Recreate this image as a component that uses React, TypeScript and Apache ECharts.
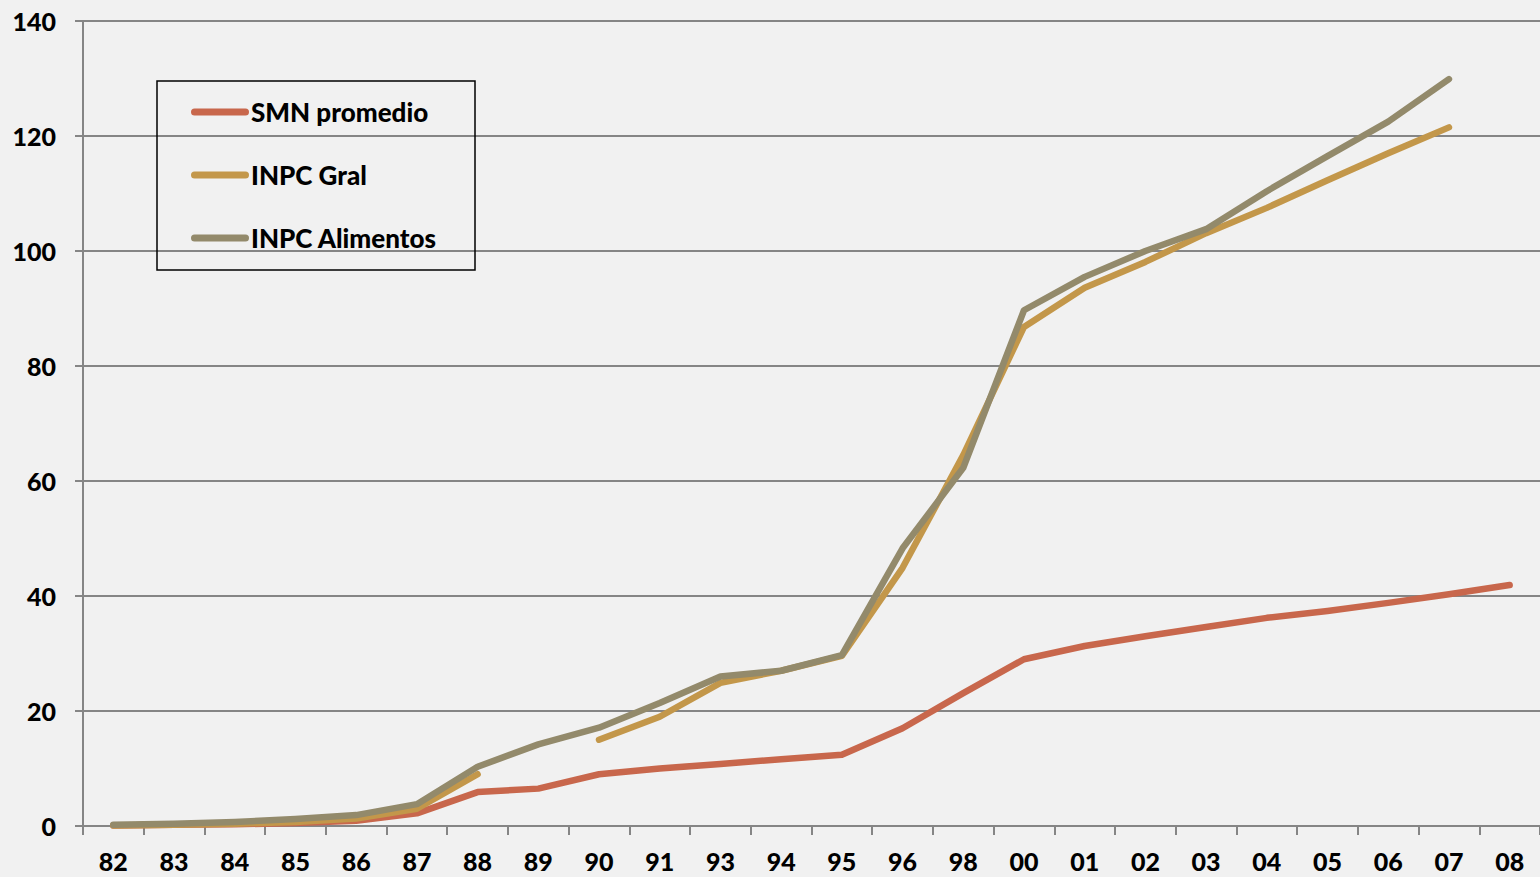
import React, { useEffect, useRef } from "react";
import * as echarts from "echarts";

// Year labels (two-digit) along the category axis
const years = [
  "82", "83", "84", "85", "86", "87", "88", "89", "90", "91", "93", "94",
  "95", "96", "98", "00", "01", "02", "03", "04", "05", "06", "07", "08",
];

const yTicks = [0, 20, 40, 60, 80, 100, 120, 140];

const smnPromedio = [
  0.1, 0.2, 0.3, 0.5, 0.9, 2.2, 5.9, 6.5, 9.0, 10.0, 10.8, 11.6,
  12.4, 17.0, 23.1, 29.0, 31.3, 33.0, 34.6, 36.2, 37.4, 38.8, 40.3, 41.9,
];

const inpcGral = [
  0.1, 0.2, 0.4, 0.7, 1.3, 3.0, 9.0, null, 15.0, 19.0, 24.9, 27.0,
  29.6, 44.9, 64.5, 86.8, 93.6, 98.1, 103.1, 107.5, 112.3, 117.0, 121.5, null,
];

const inpcAlimentos = [
  0.2, 0.4, 0.7, 1.2, 1.9, 3.8, 10.3, 14.2, 17.1, 21.4, 26.0, 27.0,
  29.7, 48.3, 62.3, 89.7, 95.5, 100.0, 103.8, 110.4, 116.5, 122.5, 129.9, null,
];

const seriesNames = ["SMN promedio", "INPC Gral", "INPC Alimentos"];
const seriesColors = ["#c8674c", "#c3974a", "#938a6b"];

const AXIS_GREY = "#858585";
const FONT = "Lato, 'Open Sans', sans-serif";

export default function App() {
  const ref = useRef<HTMLDivElement>(null);

  useEffect(() => {
    if (!ref.current) return;
    const chart = echarts.init(ref.current, null, { renderer: "svg" });

    const values = [smnPromedio, inpcGral, inpcAlimentos];

    chart.setOption({
      animation: false,
      backgroundColor: "#f1f1f1",
      grid: { left: 83, top: 21, width: 1459, height: 805 },
      legend: {
        orient: "vertical",
        left: 186,
        top: 92,
        itemWidth: 58,
        itemHeight: 7,
        itemGap: 33,
        icon: "path://M3.5,0 L54.5,0 A3.5,3.5 0 0 1 54.5,7 L3.5,7 A3.5,3.5 0 0 1 3.5,0 Z",
        data: seriesNames,
        textStyle: {
          fontFamily: FONT,
          fontWeight: 900,
          fontSize: 26,
          lineHeight: 30,
          color: "#000",
          padding: [0, 0, 0, -3],
        },
      },
      graphic: [
        {
          type: "rect",
          shape: { x: 157, y: 81, width: 318, height: 189 },
          style: { fill: "none", stroke: "#000", lineWidth: 1.5 },
          z: 10,
        },
      ],
      xAxis: {
        type: "category",
        data: years,
        boundaryGap: true,
        axisLine: { lineStyle: { color: AXIS_GREY, width: 2 } },
        axisTick: {
          show: true,
          length: 9,
          alignWithLabel: false,
          interval: 0,
          lineStyle: { color: AXIS_GREY, width: 2 },
        },
        axisLabel: {
          interval: 0,
          margin: 22,
          color: "#000",
          fontFamily: FONT,
          fontWeight: 900,
          fontSize: 25,
        },
        splitLine: { show: false },
      },
      yAxis: {
        type: "value",
        min: 0,
        max: 140,
        interval: 20,
        axisLine: { show: true, lineStyle: { color: AXIS_GREY, width: 2 } },
        axisTick: { show: true, length: 8, lineStyle: { color: AXIS_GREY, width: 2 } },
        axisLabel: {
          margin: 27,
          color: "#000",
          fontFamily: FONT,
          fontWeight: 900,
          fontSize: 25,
          formatter: (v: number) => (yTicks.includes(v) ? String(v) : ""),
        },
        splitLine: { show: true, lineStyle: { color: AXIS_GREY, width: 2 } },
      },
      series: seriesNames.map((name, i) => ({
        name,
        type: "line",
        data: values[i],
        connectNulls: false,
        showSymbol: false,
        symbol: "none",
        color: seriesColors[i],
        lineStyle: {
          color: seriesColors[i],
          width: 6.5,
          cap: "round",
          join: "round",
        },
        z: 3 + i,
      })),
    });

    return () => chart.dispose();
  }, []);

  return (
    <div
      ref={ref}
      style={{ position: "fixed", left: 0, top: 0, width: 1540, height: 877 }}
    />
  );
}
